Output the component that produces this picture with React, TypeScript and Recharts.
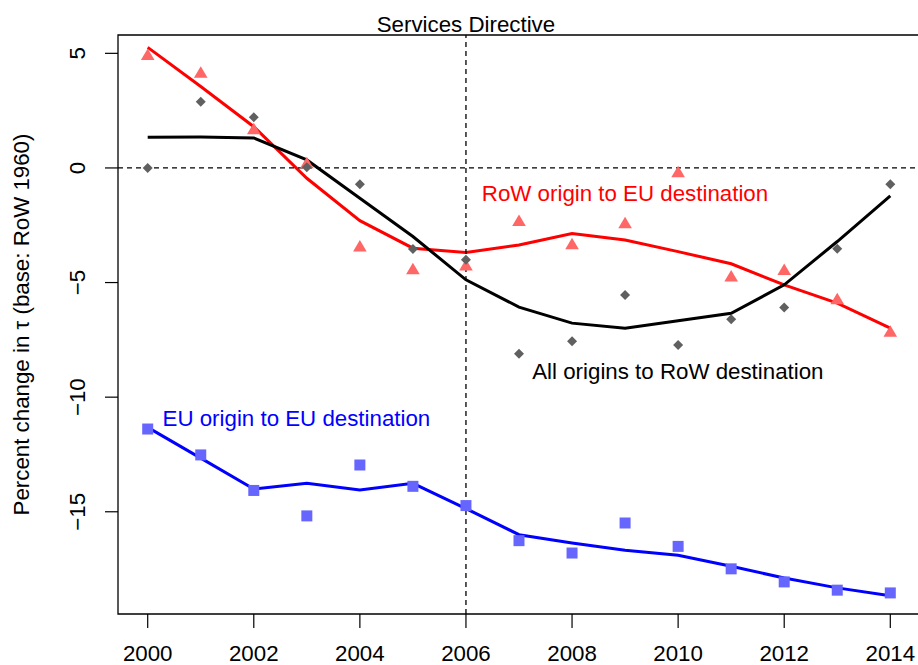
import React from 'react';
import {ComposedChart, Line, XAxis, YAxis, ReferenceLine, ReferenceArea, ReferenceDot} from 'recharts';

const years = [2000, 2001, 2002, 2003, 2004, 2005, 2006, 2007, 2008, 2009, 2010, 2011, 2012, 2013, 2014];

// RoW origin to EU destination
const rowObs = [4.93, 4.15, 1.69, 0.2, -3.43, -4.42, -4.26, -2.31, -3.33, -2.41, -0.19, -4.74, -4.45, -5.73, -7.15];
const rowFit = [5.26, 3.55, 1.8, -0.45, -2.3, -3.5, -3.69, -3.36, -2.86, -3.14, -3.65, -4.18, -5.1, -5.9, -6.99];

// All origins to RoW destination
const allObs = [0, 2.89, 2.21, 0.03, -0.71, -3.54, -4.01, -8.11, -7.56, -5.54, -7.72, -6.6, -6.09, -3.52, -0.71];
const allFit = [1.34, 1.35, 1.31, 0.35, -1.32, -2.99, -4.88, -6.07, -6.77, -6.99, -6.67, -6.34, -5.1, -3.21, -1.22];

// EU origin to EU destination
const euObs = [-11.39, -12.52, -14.07, -15.18, -12.96, -13.89, -14.73, -16.26, -16.8, -15.49, -16.51, -17.49, -18.06, -18.42, -18.54];
const euFit = [-11.32, -12.66, -14.01, -13.76, -14.05, -13.76, -14.86, -16.0, -16.36, -16.68, -16.9, -17.38, -17.89, -18.32, -18.66];

const xTicks = [2000, 2002, 2004, 2006, 2008, 2010, 2012, 2014];
const yTicks = [-15, -10, -5, 0, 5];
const xDomain: [number, number] = [1999.44, 2014.56];
const yDomain: [number, number] = [-19.46, 5.8];

const directiveYear = 2006;
const title = 'Services Directive';
const yLabel = 'Percent change in \u03c4 (base: RoW 1960)';

const annotations = [
    {x: 2006.3, y: -1.44, text: 'RoW origin to EU destination', color: '#ff0000'},
    {x: 2007.25, y: -9.2, text: 'All origins to RoW destination', color: '#000000'},
    {x: 2000.28, y: -11.25, text: 'EU origin to EU destination', color: '#0000ff'},
];

const data = years.map((year, i) => ({
    year,
    rowObs: rowObs[i],
    rowFit: rowFit[i],
    allObs: allObs[i],
    allFit: allFit[i],
    euObs: euObs[i],
    euFit: euFit[i],
}));

const FONT = '"Liberation Sans", Arial, Helvetica, sans-serif';
const FS = 22.3;

const fmt = (v: number) => (v < 0 ? '\u2212' + Math.abs(v) : String(v));

const Triangle = (p: any) => {
    if (p.cx == null || p.cy == null) return <g key={p.key} />;
    const {cx, cy} = p;
    return (
        <polygon
            key={`tri-${p.index}`}
            points={`${cx},${cy - 6.5} ${cx - 6.8},${cy + 5} ${cx + 6.8},${cy + 5}`}
            fill="#ff6666"
        />
    );
};

const Diamond = (p: any) => {
    if (p.cx == null || p.cy == null) return <g key={p.key} />;
    const {cx, cy} = p;
    return (
        <polygon
            key={`dia-${p.index}`}
            points={`${cx},${cy - 5} ${cx + 5},${cy} ${cx},${cy + 5} ${cx - 5},${cy}`}
            fill="#606060"
        />
    );
};

const Square = (p: any) => {
    if (p.cx == null || p.cy == null) return <g key={p.key} />;
    const {cx, cy} = p;
    return <rect key={`sq-${p.index}`} x={cx - 5.5} y={cy - 5.5} width={11} height={11} fill="#6666ff" />;
};

const XTick = ({x, y, payload}: any) => (
    <text x={x} y={y + 33} textAnchor="middle" fontSize={FS} fontFamily={FONT} fill="#000">
        {payload.value}
    </text>
);

const YTick = ({x, y, payload}: any) => {
    const bx = x - 20;
    return (
        <text x={bx} y={y} transform={`rotate(-90 ${bx} ${y})`} textAnchor="middle" fontSize={FS} fontFamily={FONT} fill="#000">
            {fmt(payload.value)}
        </text>
    );
};

const YTitle = (props: any) => {
    const vb = props.viewBox || {x: 0, y: 35, width: 118, height: 579};
    const cx = 29;
    const cy = vb.y + vb.height / 2;
    return (
        <text x={cx} y={cy} transform={`rotate(-90 ${cx} ${cy})`} textAnchor="middle" fontSize={FS} fontFamily={FONT} fill="#000">
            {yLabel}
        </text>
    );
};

const App: React.FC = () => {
    return (
        <div style={{position: 'fixed', left: 0, top: 0, width: 918, height: 665, overflow: 'hidden', background: '#fff'}}>
            <ComposedChart width={920} height={665} data={data} margin={{top: 35, right: 0, bottom: 0, left: 0}}>
                <XAxis
                    dataKey="year"
                    type="number"
                    domain={xDomain}
                    allowDataOverflow
                    ticks={xTicks}
                    interval={0}
                    axisLine={false}
                    tickSize={14}
                    tickMargin={0}
                    tickLine={{stroke: '#000', strokeWidth: 1.2}}
                    tick={<XTick />}
                    height={51}
                />
                <YAxis
                    type="number"
                    domain={yDomain}
                    allowDataOverflow
                    ticks={yTicks}
                    interval={0}
                    axisLine={false}
                    tickSize={13}
                    tickMargin={0}
                    tickLine={{stroke: '#000', strokeWidth: 1.2}}
                    tick={<YTick />}
                    width={118}
                    label={(props: any) => <YTitle {...props} />}
                />

                <Line dataKey="rowObs" stroke="none" dot={Triangle} activeDot={false} isAnimationActive={false} legendType="none" />
                <Line dataKey="allObs" stroke="none" dot={Diamond} activeDot={false} isAnimationActive={false} legendType="none" />
                <Line dataKey="euObs" stroke="none" dot={Square} activeDot={false} isAnimationActive={false} legendType="none" />

                <Line dataKey="rowFit" stroke="#ff0000" strokeWidth={3} dot={false} activeDot={false} isAnimationActive={false} />
                <Line dataKey="allFit" stroke="#000000" strokeWidth={3} dot={false} activeDot={false} isAnimationActive={false} />
                <Line dataKey="euFit" stroke="#0000ff" strokeWidth={3} dot={false} activeDot={false} isAnimationActive={false} />

                <ReferenceLine y={0} stroke="#000" strokeWidth={1.3} strokeDasharray="5 4" />
                <ReferenceLine
                    x={directiveYear}
                    stroke="#000"
                    strokeWidth={1.3}
                    strokeDasharray="5 4"
                    label={{value: title, position: 'top', offset: 3, fill: '#000', fontSize: FS, fontFamily: FONT}}
                />

                {annotations.map((a) => (
                    <ReferenceDot
                        key={a.text}
                        x={a.x}
                        y={a.y}
                        r={1}
                        ifOverflow="visible"
                        shape={(p: any) => (
                            <text x={p.cx} y={p.cy} fontSize={FS} fontFamily={FONT} fill={a.color}>
                                {a.text}
                            </text>
                        )}
                    />
                ))}

                <ReferenceArea
                    x1={xDomain[0]}
                    x2={xDomain[1]}
                    y1={yDomain[0]}
                    y2={yDomain[1]}
                    ifOverflow="visible"
                    fill="none"
                    fillOpacity={0}
                    stroke="#000"
                    strokeWidth={1.3}
                />
            </ComposedChart>
        </div>
    );
};

export default App;
